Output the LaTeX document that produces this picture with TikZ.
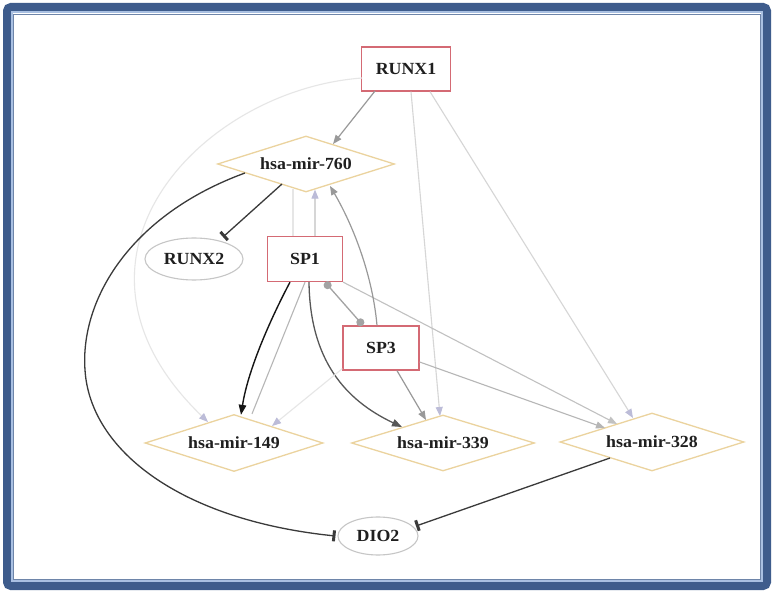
\documentclass[tikz,border=0pt]{standalone}
\usepackage{fontspec}
\setmainfont{Liberation Serif}[FakeStretch=1.05]
\usetikzlibrary{shapes.geometric,arrows.meta,calc}
\definecolor{frameblue}{HTML}{3E5C8C}
\definecolor{framelight}{HTML}{A9C0E2}
\definecolor{boxred}{HTML}{D46A74}
\definecolor{mirtan}{HTML}{EBD39E}
\definecolor{ellgray}{HTML}{C6C6C6}
\definecolor{edark}{HTML}{3A3A3A}
\definecolor{eblack}{HTML}{151515}
\definecolor{emid}{HTML}{999999}
\definecolor{egray}{HTML}{B6B6B6}
\definecolor{elight}{HTML}{D6D6D6}
\definecolor{efaint}{HTML}{E6E6E6}
\definecolor{lav}{HTML}{BCBCD8}
\begin{document}
\begin{tikzpicture}[x=1pt,y=-1pt,
  txt/.style={font=\fontsize{17}{20}\selectfont\bfseries, text=black!88},
  genebox/.style={txt, rectangle, draw=boxred, line width=1.3pt, fill=white, inner sep=0pt},
  mirna/.style={txt, diamond, aspect=3.2, draw=mirtan, line width=1.3pt, fill=white, inner sep=0pt},
  tgt/.style={txt, ellipse, draw=ellgray, line width=1.1pt, fill=white, inner sep=0pt},
  actg/.style={-{Triangle[length=9pt,width=7pt]}},
  actl/.style={-{Triangle[length=9pt,width=7pt,color=lav]}},
  inh/.style={-{Bar[width=11pt,line width=3pt]}, draw=edark, line width=1.3pt},
  dots/.style={{Circle[length=8pt]}-{Circle[length=8pt]}}
]
\useasboundingbox (0,0) rectangle (774,593);
\fill[white] (0,0) rectangle (774,593);
\draw[frameblue, line width=8pt, rounded corners=4pt] (7,7) rectangle (767,586);
\draw[framelight, line width=1.6pt] (11.8,12.3) rectangle (762.2,581.2);
\draw[frameblue!75, line width=0.8pt] (13.6,14.1) rectangle (760.4,579.4);

% nodes
\node[genebox, minimum width=89pt, minimum height=44pt] (R1) at (406,69) {RUNX1};
\node[mirna, minimum width=177pt, minimum height=56pt] (M760) at (306,164) {hsa-mir-760};
\node[tgt, minimum width=98pt, minimum height=42pt] (RX2) at (194,259) {RUNX2};
\node[genebox, minimum width=75pt, minimum height=45pt] (SP1) at (305,259) {SP1};
\node[genebox, minimum width=76pt, minimum height=44pt] (SP3) at (381,348) {SP3};
\node[mirna, minimum width=178pt, minimum height=57pt] (M149) at (234,443) {hsa-mir-149};
\node[mirna, minimum width=183pt, minimum height=56pt] (M339) at (443,443) {hsa-mir-339};
\node[mirna, minimum width=184pt, minimum height=58pt] (M328) at (652,442) {hsa-mir-328};
\node[tgt, minimum width=80pt, minimum height=38pt] (DIO2) at (378,536) {DIO2};

% edges from RUNX1
\draw[emid, line width=1.2pt, actg] ($(R1)+(-31,22)$) -- ($(M760)+(27,-20)$);
\draw[efaint, line width=1.1pt, actl] ($(R1)+(-44,9)$) .. controls (200,90) and (40,260) .. ($(M149)+(-26,-21)$);
\draw[elight, line width=1.1pt, actl] ($(R1.south)+(5,0)$) -- ($(M339)+(-3,-27)$);
\draw[elight, line width=1.1pt, actl] ($(R1.south)+(24,0)$) -- ($(M328)+(-19,-24)$);

% inhibitions
\draw[inh] ($(M760)+(-24,20)$) -- ($(RX2)+(29,-22)$);
\draw[inh] ($(M760)+(-61,9)$) .. controls (130,215) and (80,300) .. (85,370)
  .. controls (90,450) and (180,520) .. ($(DIO2.west)+(-2,0)$);
\draw[inh] ($(M328)+(-42,16)$) -- ($(DIO2)+(38,-10)$);

% edges around SP1
\draw[elight, line width=1.1pt, actl] ($(SP1.north)+(10,0)$) -- ($(M760.south)+(9,-3)$);
\draw[efaint, line width=1.1pt] ($(SP1.north)+(-12,0)$) -- ($(M760.south)+(-13,-4)$);
\draw[egray, line width=1.1pt] ($(M149.north)+(18,0)$) -- ($(SP1.south)+(0,0)$);
\draw[eblack, line width=1.4pt, -{Triangle[length=10pt,width=7.5pt]}] ($(SP1.south)+(-15,0)$) .. controls (270,320) and (248,370) .. ($(M149.north)+(7,1)$);
\draw[edark!85, line width=1.3pt, -{Triangle[length=10pt,width=7.5pt]}] ($(SP1.south)+(4,0)$) .. controls (310,360) and (345,400) .. ($(M339)+(-41,-16)$);
\draw[emid!90, line width=1.3pt, dots] ($(SP1.south)+(20,0)$) -- ($(SP3.north)+(-18,0)$);
\draw[egray!85, line width=1.1pt, actg] (SP1.south east) -- ($(M328)+(-35,-18)$);

% edges from SP3
\draw[emid, line width=1.2pt, actg] ($(SP3.north)+(-4,0)$) .. controls (372,270) and (350,220) .. ($(M760)+(24,22)$);
\draw[egray, line width=1.1pt, actg] ($(SP3.east)+(0,14)$) -- ($(M328)+(-47,-14)$);
\draw[emid, line width=1.2pt, actg] ($(SP3.south)+(16,0)$) -- ($(M339)+(-17,-23)$);
\draw[efaint, line width=1.1pt, actl] ($(SP3.south west)+(0,-2)$) -- ($(M149)+(38,-17)$);
\end{tikzpicture}
\end{document}
